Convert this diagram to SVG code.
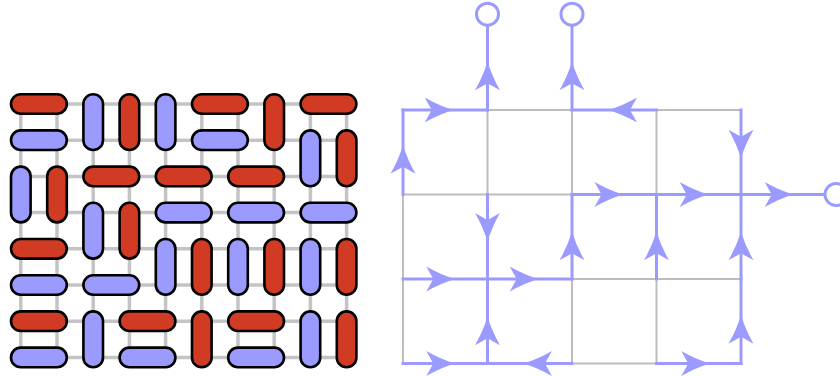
<svg xmlns="http://www.w3.org/2000/svg" width="840" height="376" viewBox="0 0 840 376">
<style>
.gl{stroke:#c4c4c4;stroke-width:3.5;fill:none}
.gr{stroke:#bdbdbd;stroke-width:2;fill:none}
.d{stroke:#000;stroke-width:2.6}
.r{fill:#d13b23}
.b{fill:#9b9bff}
.c{stroke:#9b9bff;stroke-width:3;fill:none;stroke-linecap:square;marker-mid:url(#ar)}
.t{stroke:#9b9bff;stroke-width:3;fill:#fff}
</style>
<defs>
<marker id="ar" markerUnits="userSpaceOnUse" orient="auto" viewBox="-30 -14 32 28" refX="0" refY="0" markerWidth="32" markerHeight="28" overflow="visible">
<path d="M1.5,0 Q-13,-4.5 -27,-12.5 L-20,0 L-27,12.5 Q-13,4.5 1.5,0Z" fill="#9b9bff"/>
</marker>
</defs>
<g id="lattice">
<path class="gl" d="M20.8,104H346.6M20.8,140.2H346.6M20.8,176.4H346.6M20.8,212.6H346.6M20.8,248.8H346.6M20.8,285H346.6M20.8,321.2H346.6M20.8,357.4H346.6M20.8,104V357.4M57,104V357.4M93.2,104V357.4M129.4,104V357.4M165.6,104V357.4M201.8,104V357.4M238,104V357.4M274.2,104V357.4M310.4,104V357.4M346.6,104V357.4"/>
</g>
<g id="dominoes">
<rect class="d r" x="11" y="94.2" width="55.8" height="19.6" rx="9.8"/>
<rect class="d b" x="83.4" y="94.2" width="19.6" height="55.8" rx="9.8"/>
<rect class="d r" x="119.6" y="94.2" width="19.6" height="55.8" rx="9.8"/>
<rect class="d b" x="155.8" y="94.2" width="19.6" height="55.8" rx="9.8"/>
<rect class="d r" x="192" y="94.2" width="55.8" height="19.6" rx="9.8"/>
<rect class="d r" x="264.4" y="94.2" width="19.6" height="55.8" rx="9.8"/>
<rect class="d r" x="300.6" y="94.2" width="55.8" height="19.6" rx="9.8"/>

<rect class="d b" x="11" y="130.4" width="55.8" height="19.6" rx="9.8"/>
<rect class="d b" x="192" y="130.4" width="55.8" height="19.6" rx="9.8"/>
<rect class="d b" x="300.6" y="130.4" width="19.6" height="55.8" rx="9.8"/>
<rect class="d r" x="336.8" y="130.4" width="19.6" height="55.8" rx="9.8"/>

<rect class="d b" x="11" y="166.6" width="19.6" height="55.8" rx="9.8"/>
<rect class="d r" x="47.2" y="166.6" width="19.6" height="55.8" rx="9.8"/>
<rect class="d r" x="83.4" y="166.6" width="55.8" height="19.6" rx="9.8"/>
<rect class="d r" x="155.8" y="166.6" width="55.8" height="19.6" rx="9.8"/>
<rect class="d r" x="228.2" y="166.6" width="55.8" height="19.6" rx="9.8"/>

<rect class="d b" x="83.4" y="202.8" width="19.6" height="55.8" rx="9.8"/>
<rect class="d r" x="119.6" y="202.8" width="19.6" height="55.8" rx="9.8"/>
<rect class="d b" x="155.8" y="202.8" width="55.8" height="19.6" rx="9.8"/>
<rect class="d b" x="228.2" y="202.8" width="55.8" height="19.6" rx="9.8"/>
<rect class="d b" x="300.6" y="202.8" width="55.8" height="19.6" rx="9.8"/>

<rect class="d r" x="11" y="239" width="55.8" height="19.6" rx="9.8"/>
<rect class="d b" x="155.8" y="239" width="19.6" height="55.8" rx="9.8"/>
<rect class="d r" x="192" y="239" width="19.6" height="55.8" rx="9.8"/>
<rect class="d b" x="228.2" y="239" width="19.6" height="55.8" rx="9.8"/>
<rect class="d r" x="264.4" y="239" width="19.6" height="55.8" rx="9.8"/>
<rect class="d b" x="300.6" y="239" width="19.6" height="55.8" rx="9.8"/>
<rect class="d r" x="336.8" y="239" width="19.6" height="55.8" rx="9.8"/>

<rect class="d b" x="11" y="275.2" width="55.8" height="19.6" rx="9.8"/>
<rect class="d b" x="83.4" y="275.2" width="55.8" height="19.6" rx="9.8"/>

<rect class="d r" x="11" y="311.4" width="55.8" height="19.6" rx="9.8"/>
<rect class="d b" x="83.4" y="311.4" width="19.6" height="55.8" rx="9.8"/>
<rect class="d r" x="119.6" y="311.4" width="55.8" height="19.6" rx="9.8"/>
<rect class="d r" x="192" y="311.4" width="19.6" height="55.8" rx="9.8"/>
<rect class="d r" x="228.2" y="311.4" width="55.8" height="19.6" rx="9.8"/>
<rect class="d b" x="300.6" y="311.4" width="19.6" height="55.8" rx="9.8"/>
<rect class="d r" x="336.8" y="311.4" width="19.6" height="55.8" rx="9.8"/>

<rect class="d b" x="11" y="347.6" width="55.8" height="19.6" rx="9.8"/>
<rect class="d b" x="119.6" y="347.6" width="55.8" height="19.6" rx="9.8"/>
<rect class="d b" x="228.2" y="347.6" width="55.8" height="19.6" rx="9.8"/>
</g>
<g id="grid">
<path class="gr" d="M403,110H741M403,194.5H741M403,279H741M403,363.5H741M403,110V363.5M487.5,110V363.5M572,110V363.5M656.5,110V363.5M741,110V363.5"/>
</g>
<g id="connectors">
<polyline class="c" points="403,194.5 403,146.7 403,110"/>
<polyline class="c" points="403,110 451.7,110 487.5,110"/>
<polyline class="c" points="487.5,110 487.5,63.3 487.5,26"/>
<polyline class="c" points="572,110 572,63.3 572,26"/>
<polyline class="c" points="656.5,110 610,110 572,110"/>
<polyline class="c" points="741,110 741,156.7 741,194.5"/>
<polyline class="c" points="572,194.5 621.5,194.5 656.5,194.5"/>
<polyline class="c" points="656.5,194.5 706.7,194.5 741,194.5"/>
<polyline class="c" points="741,194.5 791.7,194.5 824,194.5"/>
<polyline class="c" points="487.5,194.5 487.5,240 487.5,279"/>
<polyline class="c" points="572,279 572,233.3 572,194.5"/>
<polyline class="c" points="656.5,279 656.5,233.3 656.5,194.5"/>
<polyline class="c" points="741,279 741,233.3 741,194.5"/>
<polyline class="c" points="403,279 453.3,279 487.5,279"/>
<polyline class="c" points="487.5,279 536.7,279 572,279"/>
<polyline class="c" points="487.5,363.5 487.5,318.3 487.5,279"/>
<polyline class="c" points="403,363.5 453.3,363.5 487.5,363.5"/>
<polyline class="c" points="572,363.5 525,363.5 487.5,363.5"/>
<polyline class="c" points="656.5,363.5 708.3,363.5 741,363.5"/>
<polyline class="c" points="741,363.5 741,316.7 741,279"/>
</g>
<g id="terminal-1"><circle class="t" cx="487.5" cy="14.2" r="11"/></g>
<g id="terminal-2"><circle class="t" cx="572" cy="14.2" r="11"/></g>
<g id="terminal-3"><circle class="t" cx="836" cy="194.5" r="11"/></g>
</svg>
